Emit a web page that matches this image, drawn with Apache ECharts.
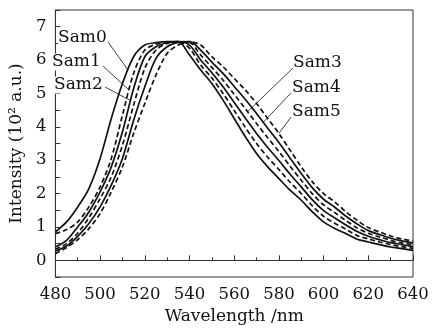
<!DOCTYPE html>
<html>
<head>
<meta charset="utf-8">
<script src="https://cdn.jsdelivr.net/npm/echarts@6/dist/echarts.min.js"></script>
<style>
  html, body { margin: 0; padding: 0; background: #fff; }
  #chart { width: 434px; height: 333px; }
</style>
</head>
<body>
<div id="chart"></div>
<script>
// wavelength grid (nm)
const wavelengths = [480, 485, 490, 495, 500, 505, 510, 515, 520, 525, 530, 535, 540,
  545, 550, 555, 560, 565, 570, 575, 580, 585, 590, 595, 600, 605, 610, 615, 620, 625, 630, 635, 640];

// intensity (10^2 a.u.)
const sam0 = [0.85, 1.15, 1.6, 2.15, 3.05, 4.25, 5.3, 6.1, 6.45, 6.52, 6.55, 6.55, 6.15,
  5.7, 5.3, 4.8, 4.25, 3.7, 3.2, 2.8, 2.45, 2.1, 1.8, 1.45, 1.15, 0.95, 0.8, 0.63, 0.55, 0.47, 0.4, 0.35, 0.3];
const sam1 = [0.8, 0.92, 1.15, 1.6, 2.2, 3.05, 4.35, 5.6, 6.3, 6.47, 6.53, 6.55, 6.35,
  5.85, 5.46, 5.0, 4.49, 3.98, 3.5, 3.09, 2.72, 2.34, 2.0, 1.63, 1.32, 1.11, 0.93, 0.74, 0.64, 0.55, 0.47, 0.41, 0.36];
const sam2 = [0.4, 0.6, 1.0, 1.45, 2.05, 2.8, 3.85, 5.15, 6.1, 6.4, 6.52, 6.55, 6.45,
  6.0, 5.62, 5.2, 4.73, 4.26, 3.8, 3.38, 2.99, 2.58, 2.2, 1.81, 1.49, 1.27, 1.06, 0.86, 0.72, 0.62, 0.53, 0.47, 0.41];
const sam3 = [0.33, 0.5, 0.82, 1.28, 1.85, 2.5, 3.45, 4.65, 5.75, 6.3, 6.5, 6.55, 6.53,
  6.15, 5.78, 5.4, 4.97, 4.54, 4.1, 3.67, 3.26, 2.82, 2.4, 1.99, 1.66, 1.43, 1.19, 0.97, 0.81, 0.7, 0.6, 0.52, 0.47];
const sam4 = [0.28, 0.43, 0.72, 1.1, 1.6, 2.25, 3.05, 4.2, 5.2, 6.05, 6.4, 6.53, 6.55,
  6.3, 5.94, 5.6, 5.21, 4.82, 4.4, 3.96, 3.53, 3.06, 2.6, 2.17, 1.83, 1.59, 1.32, 1.09, 0.89, 0.77, 0.66, 0.58, 0.52];
const sam5 = [0.2, 0.38, 0.62, 0.95, 1.4, 2.05, 2.8, 3.8, 4.7, 5.55, 6.2, 6.45, 6.55,
  6.45, 6.1, 5.8, 5.45, 5.1, 4.7, 4.25, 3.8, 3.3, 2.8, 2.35, 2.0, 1.75, 1.45, 1.2, 0.98, 0.85, 0.73, 0.64, 0.58];

const seriesNames = ["Sam0", "Sam1", "Sam2", "Sam3", "Sam4", "Sam5"];
const seriesValues = [sam0, sam1, sam2, sam3, sam4, sam5];
// wavelength where each label's leader line touches its curve
const leaderWl = [512.5, 513, 513.6, 566, 573, 580];

const FONT = "DejaVu Serif";
const INK = "#111";

// label layout (pixels): text left / vertical centre, leader start
const labelLayout = [
  { x: 58, y: 38, sx: 108, sy: 42 },
  { x: 52, y: 62, sx: 103, sy: 66 },
  { x: 54, y: 85, sx: 105, sy: 87 },
  { x: 293, y: 63, sx: 293, sy: 68 },
  { x: 292, y: 88, sx: 291, sy: 93 },
  { x: 292, y: 112, sx: 291, sy: 117 },
];

function valueAt(values, wl) {
  for (let i = 0; i < wavelengths.length - 1; i++) {
    const a = wavelengths[i], b = wavelengths[i + 1];
    if (wl >= a && wl <= b) {
      return values[i] + (values[i + 1] - values[i]) * (wl - a) / (b - a);
    }
  }
  return values[values.length - 1];
}

const chart = echarts.init(document.getElementById("chart"));

const option = {
  animation: false,
  backgroundColor: "#fff",
  grid: {
    left: 52, right: 21, top: 10, bottom: 56,
    show: true, borderColor: "#333", borderWidth: 1,
  },
  xAxis: {
    type: "value",
    min: 480, max: 640, interval: 20,
    name: "Wavelength /nm",
    nameLocation: "middle",
    nameGap: 24,
    nameTextStyle: { fontFamily: FONT, fontSize: 17, color: INK },
    axisLine: { lineStyle: { color: "#333", width: 1 } },
    axisTick: { inside: true, length: 5, lineStyle: { color: "#333" } },
    minorTick: { show: true, splitNumber: 2, length: 3, lineStyle: { color: "#333" } },
    axisLabel: { fontFamily: FONT, fontSize: 16.5, color: INK, margin: 9 },
    splitLine: { show: false },
  },
  yAxis: {
    type: "value",
    min: -0.5, max: 7.5, interval: 0.5,
    name: "Intensity (10² a.u.)",
    nameLocation: "middle",
    nameGap: 30,
    nameTextStyle: { fontFamily: FONT, fontSize: 17, color: INK },
    axisLine: { show: true, lineStyle: { color: "#333", width: 1 } },
    axisTick: { inside: true, length: 5, lineStyle: { color: "#333" } },
    axisLabel: {
      fontFamily: FONT, fontSize: 16.5, color: INK, margin: 9,
      formatter: (v) => (Math.abs(v - Math.round(v)) < 1e-6 ? String(Math.round(v)) : ""),
    },
    splitLine: { show: false },
  },
  series: seriesNames.map((name, i) => ({
    name: name,
    type: "line",
    smooth: 0.3,
    symbol: "none",
    data: wavelengths.map((w, j) => [w, seriesValues[i][j]]),
    lineStyle: {
      color: INK,
      width: 1.7,
      type: i % 2 === 0 ? "solid" : [5, 3],
    },
    z: 2,
  })),
};

chart.setOption(option);

// labels with leader lines
const graphics = [];
seriesNames.forEach((name, i) => {
  const L = labelLayout[i];
  const wl = leaderWl[i];
  const end = chart.convertToPixel({ gridIndex: 0 }, [wl, valueAt(seriesValues[i], wl)]);
  graphics.push({
    type: "line",
    shape: { x1: L.sx, y1: L.sy, x2: end[0], y2: end[1] },
    style: { stroke: INK, lineWidth: 0.8 },
    z: 10,
  });
  graphics.push({
    type: "text",
    x: L.x, y: L.y,
    style: {
      text: name, fill: INK, font: "17px '" + FONT + "'",
      textAlign: "left", textVerticalAlign: "middle",
      backgroundColor: "#fff",
    },
    z: 11,
  });
});
chart.setOption({ graphic: graphics });
</script>
</body>
</html>
